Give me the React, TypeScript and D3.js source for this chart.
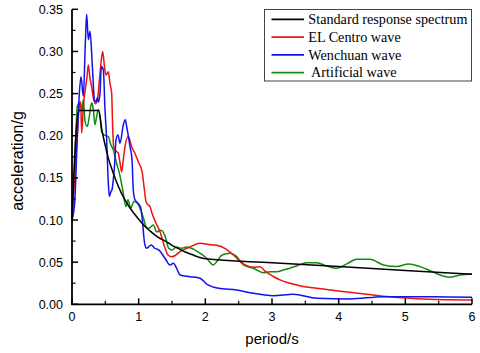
import React from "react";
import * as d3 from "d3";

const xTicks = [0, 1, 2, 3, 4, 5, 6];
const yTicks = [0, 0.05, 0.1, 0.15, 0.2, 0.25, 0.3, 0.35];

const seriesNames = ["Standard response spectrum", "EL Centro wave", "Wenchuan wave", " Artificial wave"];
const seriesColors = ["#000000", "#ee1111", "#1111ee", "#108a10"];

const standardT = [0, 0.1, 0.4, 0.45, 0.5, 0.55, 0.6, 0.65, 0.7, 0.8, 0.9, 1.0, 1.1, 1.2, 1.3, 1.4, 1.5, 1.6, 1.7, 1.8, 1.9, 2.0, 3.0, 4.0, 5.0, 6.0];
const standardA = [0.104, 0.23, 0.23, 0.206, 0.188, 0.172, 0.16, 0.149, 0.139, 0.123, 0.111, 0.101, 0.092, 0.085, 0.079, 0.075, 0.070, 0.066, 0.062, 0.059, 0.056, 0.054, 0.0494, 0.0448, 0.0402, 0.0356];

const elCentroT = [0, 0.04, 0.08, 0.11, 0.13, 0.145, 0.17, 0.2, 0.225, 0.245, 0.27, 0.295, 0.32, 0.35, 0.38, 0.41, 0.44, 0.46, 0.49, 0.51, 0.545, 0.57, 0.595, 0.61, 0.625, 0.66, 0.695, 0.72, 0.745, 0.77, 0.795, 0.845, 0.895, 0.945, 1.0, 1.05, 1.08, 1.11, 1.14, 1.17, 1.2, 1.25, 1.32, 1.39, 1.44, 1.5, 1.55, 1.62, 1.77, 1.92, 2.05, 2.17, 2.3, 2.42, 2.52, 2.6, 2.72, 2.82, 2.9, 3.02, 3.12, 3.27, 3.45, 3.67, 4.02, 4.42, 4.67, 5.17, 5.6, 6.0];
const elCentroA = [0.1, 0.15, 0.2, 0.235, 0.24, 0.203, 0.235, 0.255, 0.27, 0.284, 0.268, 0.258, 0.245, 0.238, 0.242, 0.265, 0.29, 0.3, 0.28, 0.272, 0.276, 0.262, 0.25, 0.21, 0.187, 0.182, 0.179, 0.168, 0.157, 0.172, 0.187, 0.199, 0.187, 0.179, 0.168, 0.158, 0.14, 0.122, 0.118, 0.116, 0.108, 0.098, 0.086, 0.068, 0.0585, 0.0565, 0.058, 0.0625, 0.068, 0.0725, 0.071, 0.07, 0.066, 0.0585, 0.051, 0.0467, 0.044, 0.0445, 0.039, 0.033, 0.029, 0.025, 0.0215, 0.019, 0.0155, 0.0119, 0.0095, 0.0067, 0.0055, 0.005];

const wenchuanT = [0, 0.04, 0.08, 0.11, 0.135, 0.17, 0.2, 0.22, 0.245, 0.27, 0.295, 0.32, 0.335, 0.36, 0.38, 0.395, 0.42, 0.44, 0.47, 0.495, 0.52, 0.545, 0.56, 0.585, 0.6, 0.62, 0.64, 0.66, 0.69, 0.72, 0.77, 0.8, 0.82, 0.87, 0.9, 0.92, 0.945, 0.99, 1.03, 1.05, 1.09, 1.12, 1.19, 1.24, 1.3, 1.4, 1.47, 1.52, 1.57, 1.62, 1.77, 1.92, 2.02, 2.1, 2.2, 2.47, 2.67, 3.02, 3.32, 3.67, 4.17, 4.67, 5.17, 5.42, 6.0];
const wenchuanA = [0.1, 0.12, 0.2, 0.25, 0.27, 0.247, 0.31, 0.344, 0.314, 0.324, 0.298, 0.26, 0.243, 0.24, 0.245, 0.24, 0.25, 0.282, 0.278, 0.231, 0.195, 0.144, 0.128, 0.134, 0.136, 0.148, 0.167, 0.195, 0.201, 0.191, 0.213, 0.219, 0.211, 0.187, 0.172, 0.135, 0.124, 0.12, 0.115, 0.104, 0.072, 0.0665, 0.0705, 0.0665, 0.0645, 0.054, 0.0467, 0.0487, 0.0427, 0.0348, 0.0328, 0.031, 0.024, 0.021, 0.019, 0.017, 0.0138, 0.0102, 0.0119, 0.0071, 0.0063, 0.009, 0.009, 0.009, 0.0083];

const artificialT = [0, 0.04, 0.08, 0.12, 0.145, 0.17, 0.195, 0.23, 0.26, 0.295, 0.32, 0.345, 0.37, 0.395, 0.42, 0.445, 0.48, 0.545, 0.58, 0.62, 0.67, 0.71, 0.76, 0.81, 0.84, 0.88, 0.93, 0.98, 1.03, 1.08, 1.11, 1.15, 1.22, 1.27, 1.34, 1.4, 1.45, 1.5, 1.57, 1.64, 1.72, 1.82, 1.92, 2.02, 2.12, 2.17, 2.25, 2.37, 2.47, 2.57, 2.72, 2.87, 2.97, 3.07, 3.17, 3.27, 3.37, 3.52, 3.67, 3.82, 3.97, 4.12, 4.27, 4.47, 4.67, 4.87, 5.05, 5.22, 5.37, 5.52, 5.67, 5.82, 6.0];
const artificialA = [0.1, 0.16, 0.235, 0.24, 0.23, 0.243, 0.217, 0.211, 0.223, 0.239, 0.231, 0.213, 0.223, 0.231, 0.223, 0.205, 0.201, 0.199, 0.19, 0.183, 0.167, 0.156, 0.136, 0.116, 0.124, 0.114, 0.122, 0.12, 0.112, 0.1, 0.092, 0.09, 0.094, 0.086, 0.088, 0.08, 0.0665, 0.0645, 0.068, 0.0665, 0.068, 0.0655, 0.0606, 0.0546, 0.0467, 0.0506, 0.0585, 0.0606, 0.0565, 0.0467, 0.0428, 0.0375, 0.0387, 0.0387, 0.0407, 0.0428, 0.0455, 0.0494, 0.0494, 0.0455, 0.0428, 0.0479, 0.0534, 0.0534, 0.0467, 0.0447, 0.0479, 0.0447, 0.04, 0.0348, 0.032, 0.0348, 0.036];

const seriesT = [standardT, elCentroT, wenchuanT, artificialT];
const seriesA = [standardA, elCentroA, wenchuanA, artificialA];

export default function App() {
  const W = 480, H = 353;
  const x = d3.scaleLinear().domain([0, 6]).range([72, 472]);
  const y = d3.scaleLinear().domain([0, 0.35]).range([304.3, 9.3]);
  const line = d3.line<[number, number]>()
    .x((d) => x(d[0]))
    .y((d) => y(d[1]))
    .curve(d3.curveMonotoneX);

  const xMinor = d3.range(0, 6.001, 0.5).filter((v) => Math.abs(v - Math.round(v)) > 0.01);
  const yMinor = d3.range(0.025, 0.35, 0.05);

  const order = [0, 1, 2, 3];
  const drawOrder = [3, 1, 2, 0];

  return (
    <svg width={W} height={H} style={{ position: "absolute", left: 0, top: 0, background: "#fff" }}>
      <rect x={0} y={0} width={W} height={H} fill="#fff" />
      {drawOrder.map((i) => (
        <path
          key={i}
          d={line(seriesT[i].map((t, k) => [t, seriesA[i][k]] as [number, number])) || ""}
          fill="none"
          stroke={seriesColors[i]}
          strokeWidth={1.5}
          strokeLinejoin="round"
        />
      ))}
      {/* axes */}
      <line x1={x(0)} x2={x(0)} y1={y(0) + 0.8} y2={y(0.35)} stroke="#000" strokeWidth={1.8} />
      <line x1={x(0) - 0.8} x2={x(6)} y1={y(0)} y2={y(0)} stroke="#000" strokeWidth={1.8} />
      {yTicks.map((v) => (
        <g key={"y" + v}>
          <line x1={x(0)} x2={x(0) + 6} y1={y(v)} y2={y(v)} stroke="#000" strokeWidth={1.5} />
          <text x={63} y={y(v)} dy="0.36em" textAnchor="end" fontFamily="Liberation Sans, Arial, sans-serif" fontSize={12.5} fill="#000">
            {v.toFixed(2)}
          </text>
        </g>
      ))}
      {yMinor.map((v) => (
        <line key={"ym" + v} x1={x(0)} x2={x(0) + 3.5} y1={y(v)} y2={y(v)} stroke="#000" strokeWidth={1.2} />
      ))}
      {xTicks.map((v) => (
        <g key={"x" + v}>
          <line x1={x(v)} x2={x(v)} y1={y(0)} y2={y(0) - 6} stroke="#000" strokeWidth={1.5} />
          <text x={x(v)} y={320.5} textAnchor="middle" fontFamily="Liberation Sans, Arial, sans-serif" fontSize={12.5} fill="#000">
            {v}
          </text>
        </g>
      ))}
      {xMinor.map((v) => (
        <line key={"xm" + v} x1={x(v)} x2={x(v)} y1={y(0)} y2={y(0) - 3.5} stroke="#000" strokeWidth={1.2} />
      ))}
      <text x={272} y={344} textAnchor="middle" fontFamily="Liberation Sans, Arial, sans-serif" fontSize={15} fill="#000">
        period/s
      </text>
      <text
        transform="translate(23,161) rotate(-90)"
        textAnchor="middle"
        fontFamily="Liberation Sans, Arial, sans-serif"
        fontSize={16}
        fill="#000"
      >
        acceleration/g
      </text>
      {/* legend */}
      <rect x={264.5} y={9.5} width={207} height={71.5} fill="#fff" stroke="#444" strokeWidth={1} />
      {order.map((i) => {
        const cy = 19.3 + i * 17.8;
        return (
          <g key={"lg" + i}>
            <line x1={271.5} x2={304} y1={cy} y2={cy} stroke={seriesColors[i]} strokeWidth={1.8} />
            <text
              x={308.3}
              y={cy}
              dy="0.33em"
              fontFamily="Liberation Serif, Times New Roman, serif"
              fontSize={14.2}
              fill="#000"
              style={{ whiteSpace: "pre" }}
            >
              {seriesNames[i]}
            </text>
          </g>
        );
      })}
    </svg>
  );
}
